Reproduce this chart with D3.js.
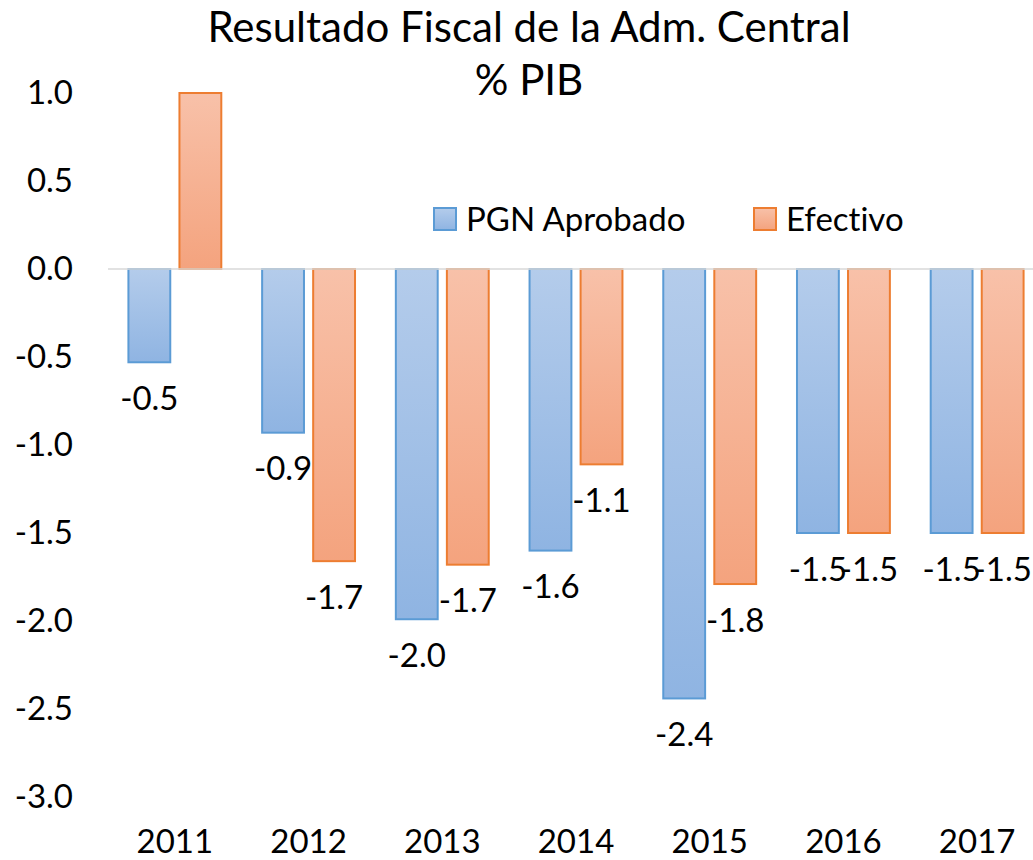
<!DOCTYPE html>
<meta charset="utf-8">
<head>
  <title>Resultado Fiscal</title>
</head>
<style>
  body { margin: 0; background: #fff; }
  text { font-family: Lato, "Open Sans", sans-serif; fill: #000; font-variant-ligatures: none; }
</style>
<script src="https://d3js.org/d3.v7.min.js"></script>
<div id="chart"></div>
<script>
  // data (% del PIB)
  var years = ["2011", "2012", "2013", "2014", "2015", "2016", "2017"];
  var seriesNames = ["PGN Aprobado", "Efectivo"];
  var pgnAprobado = [-0.53, -0.93, -1.99, -1.60, -2.44, -1.50, -1.50];
  var efectivo = [1.0, -1.66, -1.68, -1.11, -1.79, -1.50, -1.50];
  var yTicks = [1.0, 0.5, 0.0, -0.5, -1.0, -1.5, -2.0, -2.5, -3.0];

  var width = 1033, height = 860;
  var plot = { left: 108, right: 1044, top: 93, bottom: 797 };

  var colors = {
    "PGN Aprobado": { top: "#b4cceb", bottom: "#8fb4e2", stroke: "#5b9bd5" },
    "Efectivo": { top: "#f8c1a9", bottom: "#f4a37e", stroke: "#ed7d31" }
  };

  // one decimal, plain hyphen as minus sign
  var fmt = function(v) { return d3.format(".1f")(v).replace("\u2212", "-"); };

  var svg = d3.select("#chart")
    .append("svg")
    .attr("width", width)
    .attr("height", height);

  // gradients, light at the top of each bar
  var defs = svg.append("defs");
  seriesNames.forEach(function(s, i) {
    var g = defs.append("linearGradient")
      .attr("id", "grad" + i)
      .attr("x1", 0).attr("y1", 0).attr("x2", 0).attr("y2", 1);
    g.append("stop").attr("offset", "0%").attr("stop-color", colors[s].top);
    g.append("stop").attr("offset", "100%").attr("stop-color", colors[s].bottom);
  });

  var x0 = d3.scaleBand()
    .domain(years)
    .range([plot.left, plot.right])
    .paddingInner(0)
    .paddingOuter(0);

  var x1 = d3.scaleBand()
    .domain(seriesNames)
    .range([0, x0.bandwidth()])
    .paddingInner(0.18)
    .paddingOuter(0.4);

  var y = d3.scaleLinear()
    .domain([-3, 1])
    .range([plot.bottom, plot.top]);

  // title
  svg.append("text")
    .attr("x", 529)
    .attr("y", 42)
    .attr("text-anchor", "middle")
    .style("font-size", "42px")
    .text("Resultado Fiscal de la Adm. Central");
  svg.append("text")
    .attr("x", 529)
    .attr("y", 95)
    .attr("text-anchor", "middle")
    .style("font-size", "42px")
    .text("% PIB");

  // y axis labels (no axis line)
  var yAxis = svg.append("g")
    .attr("transform", "translate(73,0)")
    .call(d3.axisLeft(y).tickValues(yTicks).tickSize(0).tickPadding(0)
      .tickFormat(fmt));
  yAxis.select(".domain").remove();
  yAxis.selectAll("text")
    .attr("font-family", null)
    .attr("fill", null)
    .style("font-size", "33px");

  // x axis labels
  var xAxis = svg.append("g")
    .attr("transform", "translate(0,830)")
    .call(d3.axisBottom(x0).tickSize(0).tickPadding(0));
  xAxis.select(".domain").remove();
  xAxis.selectAll("text")
    .attr("font-family", null)
    .attr("fill", null)
    .attr("dy", "0.71em")
    .style("font-size", "33px");

  var rows = years.map(function(yr, i) {
    return { year: yr, values: [
      { key: seriesNames[0], idx: 0, value: pgnAprobado[i] },
      { key: seriesNames[1], idx: 1, value: efectivo[i] }
    ]};
  });

  var groups = svg.append("g")
    .selectAll("g")
    .data(rows)
    .enter()
    .append("g")
    .attr("transform", function(d) { return "translate(" + x0(d.year) + ",0)"; });

  groups.selectAll("rect")
    .data(function(d) { return d.values; })
    .enter()
    .append("rect")
    .attr("x", function(d) { return x1(d.key); })
    .attr("width", x1.bandwidth())
    .attr("y", function(d) { return y(Math.max(0, d.value)); })
    .attr("height", function(d) { return Math.abs(y(d.value) - y(0)); })
    .attr("fill", function(d) { return "url(#grad" + d.idx + ")"; })
    .attr("stroke", function(d) { return colors[d.key].stroke; })
    .attr("stroke-width", 2);

  // data labels sit below the negative bars only (the positive one has none)
  groups.selectAll(".lbl")
    .data(function(d) { return d.values.filter(function(v) { return v.value < 0; }); })
    .enter()
    .append("text")
    .attr("class", "lbl")
    .attr("x", function(d) { return x1(d.key) + x1.bandwidth() / 2; })
    .attr("y", function(d) { return y(d.value) + 36; })
    .attr("dy", "0.35em")
    .attr("text-anchor", "middle")
    .style("font-size", "33px")
    .text(function(d) { return fmt(d.value); });

  // zero line
  svg.append("line")
    .attr("x1", plot.left)
    .attr("x2", plot.right)
    .attr("y1", y(0))
    .attr("y2", y(0))
    .attr("stroke", "#d9d9d9")
    .attr("stroke-width", 1.5);

  // legend
  var legendX = [434, 754];
  var legend = svg.append("g")
    .selectAll("g")
    .data(seriesNames)
    .enter()
    .append("g")
    .attr("transform", function(d, i) { return "translate(" + legendX[i] + ",208)"; });
  legend.append("rect")
    .attr("width", 22)
    .attr("height", 22)
    .attr("fill", function(d, i) { return "url(#grad" + i + ")"; })
    .attr("stroke", function(d) { return colors[d].stroke; })
    .attr("stroke-width", 2);
  legend.append("text")
    .attr("x", 32)
    .attr("y", 11)
    .attr("dy", "0.35em")
    .style("font-size", "33px")
    .text(function(d) { return d; });
</script>
